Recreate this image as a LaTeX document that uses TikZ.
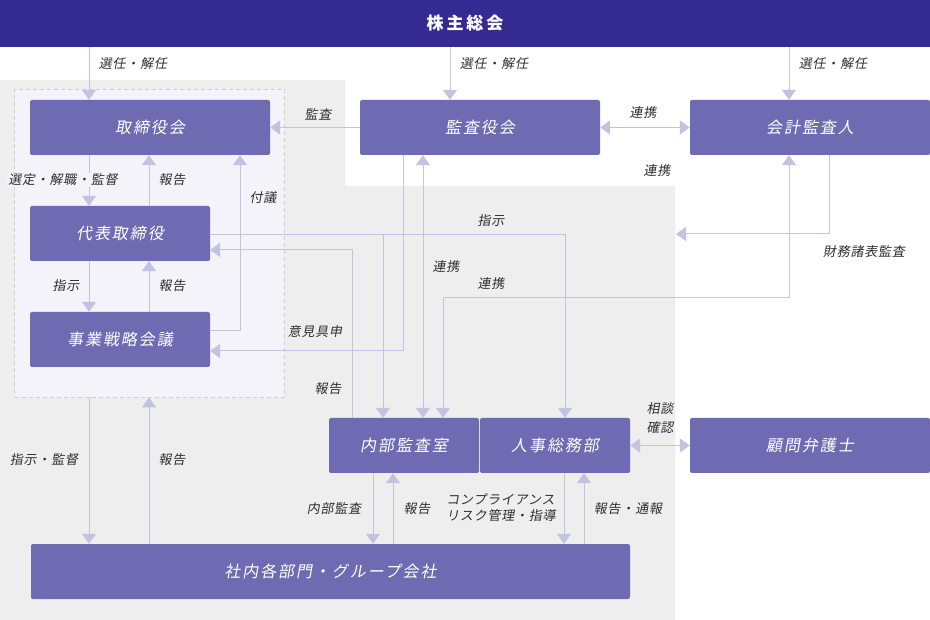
\documentclass[tikz,border=0pt]{standalone}
\usepackage{fontspec}
\usetikzlibrary{arrows.meta,calc}
\newfontfamily\jplbl[FakeSlant=0.18,LetterSpace=6]{Noto Sans CJK JP}
\newfontfamily\jpbox[FakeSlant=0.18,LetterSpace=12]{Noto Sans CJK JP}
\newfontfamily\jptop[LetterSpace=17]{Noto Sans CJK JP}
\definecolor{topc}{HTML}{342A91}
\definecolor{boxc}{HTML}{6F6BB2}
\definecolor{linec}{HTML}{C4C2E1}
\definecolor{grayc}{HTML}{EEEEEE}
\definecolor{dashbg}{HTML}{F3F3F9}
\definecolor{dashc}{HTML}{CDCDD2}
\definecolor{txtc}{HTML}{2E2E2E}
\tikzset{
  box/.style={fill=boxc, rounded corners=2pt, text=white, minimum height=55pt, inner sep=0pt,
    font=\jpbox\fontsize{16}{18}\selectfont},
  conn/.style={draw=linec, line width=1pt, -{Triangle[width=14pt,length=10pt]}},
  both/.style={draw=linec, line width=1pt, {Triangle[width=14pt,length=10pt]}-{Triangle[width=14pt,length=10pt]}},
  lbl/.style={text=txtc, font=\jplbl\fontsize{13}{15.5}\selectfont, inner sep=1pt, align=left},
  grp/.style={draw=dashc, fill=dashbg, dash pattern=on 4pt off 3pt, line width=0.8pt, inner sep=0pt},
}
\begin{document}
\begin{tikzpicture}[x=1pt,y=-1pt]
\useasboundingbox (0,0) rectangle (930,620);
\fill[white] (0,0) rectangle (930,620);
\fill[grayc] (0,80) -- (345,80) -- (345,186) -- (675,186) -- (675,620) -- (0,620) -- cycle;
\node[grp, minimum width=270pt, minimum height=308pt] (grp) at (149.5,243) {};

% nodes
\node[fill=topc, text=white, minimum width=930pt, minimum height=47pt, inner sep=0pt,
  font=\jptop\bfseries\fontsize{17}{19}\selectfont] (sh) at (465,23.5) {株主総会};
\node[box, minimum width=240pt] (tb) at (150,127.5) {取締役会};
\node[box, minimum width=240pt] (kk) at (480,127.5) {監査役会};
\node[box, minimum width=240pt] (ka) at (810,127.5) {会計監査人};
\node[box, minimum width=180pt] (dt) at (120,233.5) {代表取締役};
\node[box, minimum width=180pt] (jg) at (120,339.5) {事業戦略会議};
\node[box, minimum width=150pt] (nb) at (404,445.5) {内部監査室};
\node[box, minimum width=150pt] (js) at (555,445.5) {人事総務部};
\node[box, minimum width=240pt] (kb) at (810,445.5) {顧問弁護士};
\node[box, minimum width=599pt] (sn) at (330.5,571.5) {社内各部門・グループ会社};

% helper coordinates
\coordinate (c89) at (89,0);
\coordinate (c149) at (149,0);
\coordinate (c450) at (450,0);
\coordinate (c789) at (789,0);
\coordinate (c423) at (423,0);
\coordinate (c373) at (373,0);
\coordinate (c393) at (393,0);
\coordinate (c564) at (564,0);
\coordinate (c584) at (584,0);
\coordinate (fugi) at (240,331);
\coordinate (shiji) at (565,235);
\coordinate (shiji2) at (383,235);
\coordinate (hk) at (352,250);
\coordinate (ik) at (403,351);
\coordinate (rk1) at (789,298);
\coordinate (rk2) at (443,298);
\coordinate (zm) at (829,234);
\coordinate (zmend) at (676,234);

% connectors
\draw[conn] (sh.south -| c89) -- (tb.north -| c89);
\draw[conn] (sh.south -| c450) -- (kk.north -| c450);
\draw[conn] (sh.south -| c789) -- (ka.north -| c789);
\draw[conn] (kk.west) -- (tb.east);
\draw[both] (kk.east) -- (ka.west);
\draw[conn] (tb.south -| c89) -- (dt.north -| c89);
\draw[conn] (dt.north -| c149) -- (tb.south -| c149);
\draw[conn] (jg.east |- fugi) -| (tb.south -| fugi);
\draw[conn] (dt.south -| c89) -- (jg.north -| c89);
\draw[conn] (jg.north -| c149) -- (dt.south -| c149);
\draw[conn] (dt.east |- shiji) -| (js.north -| shiji);
\draw[conn] (shiji2) -- (nb.north -| shiji2);
\draw[conn] (nb.north -| hk) |- (dt.east |- hk);
\draw[conn] (kk.south -| ik) |- (jg.east |- ik);
\draw[both] (kk.south -| c423) -- (nb.north -| c423);
\draw[both] (ka.south -| rk1) |- (rk2) -- (nb.north -| rk2);
\draw[conn] (ka.south -| zm) |- (zmend);
\draw[conn] (nb.south -| c373) -- (sn.north -| c373);
\draw[conn] (sn.north -| c393) -- (nb.south -| c393);
\draw[conn] (js.south -| c564) -- (sn.north -| c564);
\draw[conn] (sn.north -| c584) -- (js.south -| c584);
\draw[both] (js.east) -- (kb.west);
\draw[conn] (grp.south -| c89) -- (sn.north -| c89);
\draw[conn] (sn.north -| c149) -- (grp.south -| c149);

% labels
\node[lbl] (l1) at (133,64) {選任・解任};
\node[lbl] (l2) at (494,64) {選任・解任};
\node[lbl] (l3) at (833,64) {選任・解任};
\node[lbl] (l4) at (318,114) {監査};
\node[lbl] (l5) at (643,113) {連携};
\node[lbl] (l6) at (657,171) {連携};
\node[lbl, fill=dashbg] (l7) at (63,180) {選定・解職・監督};
\node[lbl] (l8) at (172,180) {報告};
\node[lbl] (l9) at (263,198) {付議};
\node[lbl] (l10) at (66,286) {指示};
\node[lbl] (l11) at (172,286) {報告};
\node[lbl] (l12) at (491,221) {指示};
\node[lbl] (l13) at (446,267) {連携};
\node[lbl] (l14) at (491,284) {連携};
\node[lbl] (l15) at (315,332) {意見具申};
\node[lbl] (l16) at (328,389) {報告};
\node[lbl] (l17) at (864,252) {財務諸表監査};
\node[lbl, font=\jplbl\fontsize{13}{19.5}\selectfont] (l18) at (660,418) {相談\\確認};
\node[lbl] (l19) at (334,509) {内部監査};
\node[lbl] (l20) at (417,509) {報告};
\node[lbl, font=\jplbl\fontsize{13}{16}\selectfont] (l21) at (501,508) {コンプライアンス\\リスク管理・指導};
\node[lbl] (l22) at (628,509) {報告・通報};
\node[lbl] (l23) at (44,460) {指示・監督};
\node[lbl] (l24) at (172,460) {報告};
\end{tikzpicture}
\end{document}
